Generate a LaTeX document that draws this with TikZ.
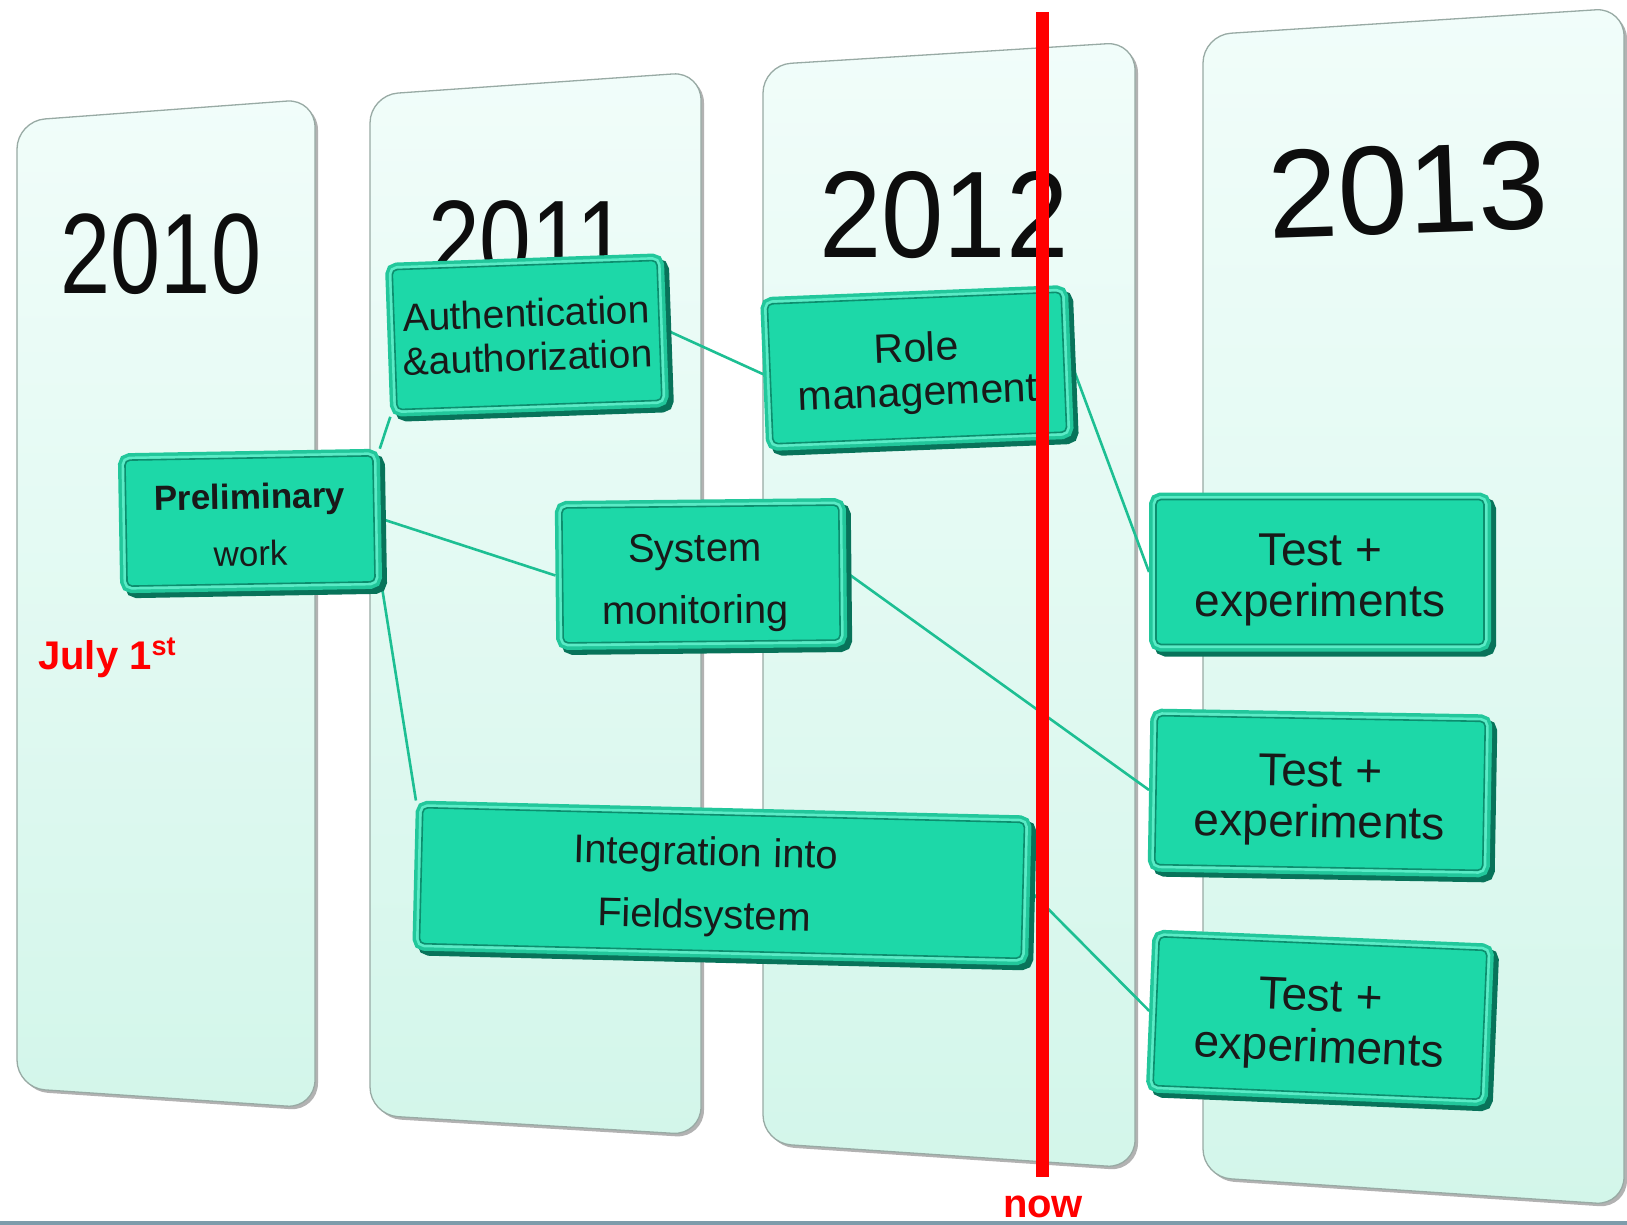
\documentclass[tikz,border=0pt]{standalone}
\usepackage{fontspec}
\setmainfont{Liberation Sans}
\usepackage{graphicx}
\pgfdeclarelayer{bg}
\pgfdeclarelayer{lines}
\pgfsetlayers{bg,lines,main}
\definecolor{gface}{HTML}{1DD8A8}
\definecolor{grim}{HTML}{22C79B}
\definecolor{ghi}{HTML}{5AEBC6}
\definecolor{gline}{HTML}{0C8E6E}
\definecolor{gdark}{HTML}{08735A}
\definecolor{gconn}{HTML}{1DBF93}
\definecolor{pantop}{HTML}{F1FDFA}
\definecolor{panbot}{HTML}{D3F6EA}
\definecolor{panline}{HTML}{98AAA4}
\definecolor{botline}{HTML}{7E9CAB}
\definecolor{nowred}{HTML}{FF0000}
\newcommand\yrpanel[6]{%
  \fill[gray!60, rounded corners=28pt] (#1+3,#3+3) -- (#2+3,#4+3) -- (#2+3,#6+3) -- (#1+3,#5+3) -- cycle;
  \draw[top color=pantop, bottom color=panbot, draw=panline, line width=1.3pt, rounded corners=28pt]
    (#1,#3) -- (#2,#4) -- (#2,#6) -- (#1,#5) -- cycle;}
\begin{document}
\begin{tikzpicture}[x=1pt,y=-1pt,
  gbox/.style={rectangle, rounded corners=5pt, inner sep=0pt, outer sep=7pt, align=center,
    text=black!90,
    preaction={draw=gdark, fill=gdark, line width=14pt, transform canvas={shift={(5pt,-5pt)}}},
    preaction={draw=grim, fill=grim, line width=14pt},
    preaction={draw=ghi, line width=7pt},
    fill=gface, draw=gline, line width=1.6pt},
  conn/.style={draw=gconn, line width=2.6pt},
  yr/.style={inner sep=0pt, text=black!95}]
\useasboundingbox (0,0) rectangle (1627,1225);
\begin{pgfonlayer}{bg}
\fill[white] (0,0) rectangle (1627,1225);
\fill[botline] (0,1221) rectangle (1627,1225);
\yrpanel{17}{315}{121}{99}{1088}{1108}
\yrpanel{370}{701}{95}{72}{1115}{1135}
\yrpanel{763}{1135}{65}{42}{1143}{1168}
\yrpanel{1203}{1624}{35}{8}{1177}{1205}
\node[yr, font=\fontsize{90}{90}\selectfont] (y2010) at (161,254) {\scalebox{1}[1.27]{2010}};
\node[yr, font=\fontsize{93}{93}\selectfont] (y2011) at (528,240) {\scalebox{1}[1.2]{2011}};
\node[yr, font=\fontsize{112}{112}\selectfont] (y2012) at (944,215) {\scalebox{1}[1.1]{2012}};
\node[yr, font=\fontsize{126}{126}\selectfont, rotate=2] (y2013) at (1408,190) {2013};
\end{pgfonlayer}

\node[gbox, minimum width=248pt, minimum height=126pt, rotate=1, font=\fontsize{35}{57}\selectfont] (prelim) at (250,521) {\rule{0pt}{33pt}\textbf{Preliminary}\\work};
\node[gbox, minimum width=265pt, minimum height=140pt, rotate=2, font=\fontsize{39}{44}\selectfont] (auth) at (527,335) {Authentication\\\&authorization};
\node[gbox, minimum width=294pt, minimum height=140pt, rotate=2.3, font=\fontsize{41}{44}\selectfont] (role) at (917,368) {\rule{0pt}{40pt}Role\\management};
\node[gbox, minimum width=277pt, minimum height=135pt, rotate=0.6, font=\fontsize{40}{62}\selectfont] (sysmon) at (701,574) {\rule{0pt}{46pt}System\hspace*{12pt}\\monitoring\hspace*{12pt}};
\node[gbox, minimum width=602pt, minimum height=136pt, rotate=-1.4, font=\fontsize{40}{63}\selectfont] (integ) at (722,883) {\rule{0pt}{37pt}Integration into\hspace*{34pt}\\Fieldsystem\hspace*{34pt}};
\node[gbox, minimum width=328pt, minimum height=145pt, font=\fontsize{46}{51}\selectfont] (test1) at (1320,572) {\rule{0pt}{47pt}Test +\\experiments};
\node[gbox, minimum width=328pt, minimum height=149pt, rotate=-1, font=\fontsize{46}{51}\selectfont] (test2) at (1320,793) {\rule{0pt}{47pt}Test +\\experiments};
\node[gbox, minimum width=328pt, minimum height=149pt, rotate=-2.4, font=\fontsize{46}{51}\selectfont] (test3) at (1320,1018) {\rule{0pt}{47pt}Test +\\experiments};

\begin{pgfonlayer}{lines}
\draw[conn] (prelim.north east) -- (auth.south west);
\draw[conn] (prelim.east) -- (sysmon.west);
\draw[conn] (prelim.south east) -- (integ.north west);
\draw[conn] (auth.east) -- (role.west);
\draw[conn] (role.east) -- (test1.west);
\draw[conn] (sysmon.east) -- (test2.west);
\draw[conn] (integ.east) -- (test3.west);
\end{pgfonlayer}

\coordinate (nowtop) at (1042.5,12);
\coordinate (nowbot) at (1042.5,1177);
\draw[nowred, line width=13pt] (nowtop) -- (nowbot);
\node[anchor=base, inner sep=0pt, text=nowred, font=\fontsize{40}{40}\selectfont\bfseries] (nowlbl) at (1043,1217) {now};
\node[anchor=base west, inner sep=0pt, text=nowred, font=\fontsize{40}{40}\selectfont\bfseries] (july) at (38,669) {July 1\raisebox{14pt}{\fontsize{27}{27}\selectfont st}};
\end{tikzpicture}
\end{document}
